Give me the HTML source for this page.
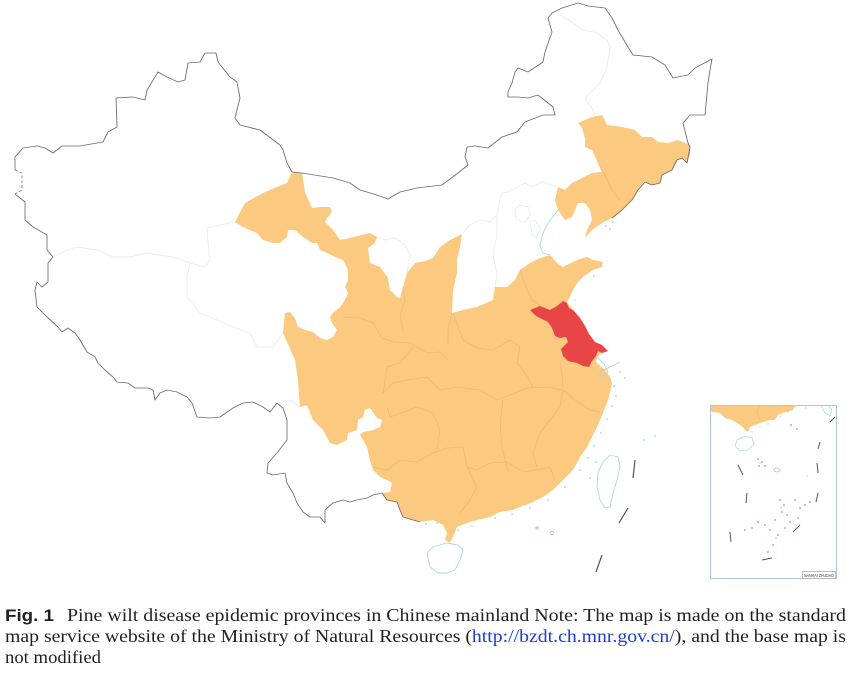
<!DOCTYPE html>
<html><head><meta charset="utf-8"><style>
html,body{margin:0;padding:0;background:#fff;}
svg{display:block;}
</style></head><body>
<svg width="850" height="674" viewBox="0 0 850 674" xmlns="http://www.w3.org/2000/svg">
<rect width="850" height="674" fill="#ffffff"/>

<!-- faint province borders in white regions -->
<g fill="none" stroke="#ebebeb" stroke-width="0.9">
<polyline points="53,257 67,250 77,247 97,250 113,257 130,257 147,253 173,257 190,263 205,267 210,260 208,243 207,228 220,225 235,222"/>
<polyline points="190,263 187,277 187,297 200,313 217,320 233,327 250,333 257,347 273,347 283,333"/>
<polyline points="283,408 290,400 300,407"/>
<polyline points="377,237 385,240 395,238 405,245 410,255 407,273"/>
<polyline points="462,234 470,225 480,220 490,222 497,215"/>
<polyline points="497,215 497,235 493,255 497,275 495,287"/>
<polyline points="497,215 500,200 502,193 508,192 525,183 532,187 542,182 558,187"/>
<polygon points="515,210 520,205 528,207 530,215 525,222 517,220"/>
<polygon points="530,222 535,220 540,228 537,238 532,235"/>
<polyline points="560,15 572,22 582,30 595,32 607,40 610,47 607,67 600,83 588,95 585,100 592,108 595,115"/>
</g>

<!-- main orange body -->
<polygon fill="#fbc97f" points="235,222 245,203 263,193 277,187 287,183 292,172 302,173 305,192 312,208 320,207 330,207 332,212 327,218 325,222 333,230 340,240 350,238 358,236 370,233 377,237 375,243 368,248 370,263 380,267 388,278 390,290 397,297 400,298 403,287 407,273 415,263 425,261 433,258 440,247 450,240 462,234 460,247 457,260 457,273 453,290 452,313 463,310 477,307 493,300 495,287 507,287 515,280 520,270 530,263 540,258 550,255 557,263 563,267 577,260 587,257 593,260 603,262 602,267 593,270 583,277 577,283 573,290 570,297 567,302 574,311 580,318 585,326 589,334 595,342 602,345 608,351 602,353 598,356 596,362 600,366 605,370 610,377 612,383 610,393 607,403 603,413 597,427 592,437 587,447 580,457 573,470 563,480 553,490 543,497 533,502 520,507 513,510 500,512 490,517 477,520 467,523 457,527 453,537 450,543 445,540 447,533 443,525 433,520 420,522 413,520 403,517 400,510 397,502 387,500 382,495 383,493 390,492 392,483 387,480 380,477 373,470 370,460 367,447 363,440 360,435 363,432 373,430 380,427 382,420 377,418 370,408 365,410 363,417 358,420 357,430 348,433 347,440 337,445 330,443 323,430 313,420 307,405 300,407 298,380 295,360 283,333 285,313 290,312 295,318 298,327 305,330 313,332 320,338 327,340 333,337 337,330 332,323 330,317 333,313 340,307 345,300 348,293 345,287 348,280 348,270 343,260 335,257 327,253 320,250 317,243 312,243 303,237 295,230 288,230 287,237 280,243 273,243 263,240 257,233 243,227"/>

<!-- NE orange -->
<polygon fill="#fbc97f" points="578,123 592,117 602,115 607,125 622,127 635,130 642,137 652,137 658,142 668,143 678,140 690,145 690,155 687,163 682,158 677,160 672,170 662,175 660,183 652,185 645,182 638,190 632,200 622,210 612,218 602,223 592,230 585,238 587,230 592,220 590,210 585,203 578,203 572,217 565,220 558,210 555,200 558,187 565,190 572,183 592,173 602,172 598,163 592,150 585,147 585,138 582,128"/>

<!-- internal orange borders -->
<g fill="none" stroke="#ebb873" stroke-width="0.7">
<polyline points="343,317 360,318 373,323 382,338 393,342 410,343 427,353 440,352 448,360"/>
<polyline points="383,393 393,383 407,380 427,377 440,390 457,387 480,390 497,400 510,395 527,388 547,387 562,390"/>
<polyline points="503,400 500,423 502,447 507,467 510,473"/>
<polyline points="373,467 387,470 400,460 417,462 433,453 447,448 463,447 467,467 477,470 490,463 507,462 523,472 537,470 550,467 555,480"/>
<polyline points="563,390 560,407 550,420 540,433 533,453 537,467"/>
<polyline points="467,467 477,487 470,500 460,513"/>
<polyline points="387,407 390,417 417,407 433,413 440,430 437,450"/>
<polyline points="453,313 463,340 477,348 493,350 510,340 520,347 517,363 528,377 533,388"/>
<polyline points="383,393 387,367 400,363 413,347"/>
<polyline points="452,313 448,330 448,345"/>
<polyline points="403,287 405,300 400,315 403,330"/>
<polyline points="520,270 525,285 532,300 540,306"/>
<polyline points="563,390 575,400 590,410 600,412"/>
<polyline points="560,363 562,375 563,390"/>
<polyline points="598,163 605,175 612,190 620,200"/>
</g>

<!-- Jiangsu -->
<polygon fill="#e84646" points="530,310 540,306 550,310 557,306 563,301 567,303 569,308 574,311 580,318 585,326 589,334 595,342 602,345 608,351 602,353 598,351 596,356 592,361 589,367 583,366 577,363 568,361 563,356 561,349 565,345 568,342 566,337 560,338 555,336 552,328 548,322 542,319 536,316"/>

<!-- coast lines cyan -->
<g fill="none" stroke="#a6dbe6" stroke-width="0.9">
<polyline points="558,210 552,218 546,226 542,236 540,246 543,253 550,255"/>
<polygon points="427,553 433,547 447,543 458,545 463,550 460,560 455,570 447,573 438,573 430,567"/>
<polygon points="610,455 618,457 620,467 617,480 613,493 610,507 605,508 600,500 597,487 598,473 603,462"/>
<polyline points="598,358 604,364 608,372 603,378 598,374"/>
</g>
<g fill="#9fd6e3">
<circle cx="606" cy="226" r="0.9"/><circle cx="610" cy="229" r="0.9"/><circle cx="613" cy="222" r="0.9"/>
<circle cx="594" cy="276" r="0.9"/><circle cx="575" cy="300" r="0.8"/>
<circle cx="614" cy="386" r="0.9"/><circle cx="616" cy="396" r="0.9"/><circle cx="612" cy="406" r="0.9"/>
<circle cx="607" cy="419" r="0.9"/><circle cx="601" cy="433" r="0.9"/><circle cx="594" cy="446" r="0.9"/>
<circle cx="588" cy="458" r="0.9"/><circle cx="580" cy="470" r="0.9"/><circle cx="565" cy="487" r="0.9"/>
<circle cx="548" cy="500" r="0.9"/><circle cx="530" cy="508" r="0.9"/><circle cx="512" cy="514" r="0.9"/>
<circle cx="495" cy="518" r="0.9"/><circle cx="472" cy="526" r="0.9"/><circle cx="458" cy="530" r="0.9"/>
<circle cx="426" cy="524" r="0.9"/><circle cx="437" cy="523" r="0.9"/>
<circle cx="644" cy="440" r="0.9"/><circle cx="655" cy="436" r="0.9"/><circle cx="620" cy="372" r="0.9"/>
<circle cx="625" cy="378" r="0.9"/><circle cx="590" cy="478" r="0.9"/><circle cx="596" cy="462" r="0.9"/>
</g>
<line x1="600" y1="372" x2="620" y2="362" stroke="#c0c0c0" stroke-width="0.7"/>
<g fill="none" stroke="#d890d8" stroke-width="0.8">
<circle cx="537" cy="528" r="1.2"/><circle cx="552" cy="533" r="1.5"/>
</g>

<!-- dashes -->
<g stroke="#555" stroke-width="1.2" fill="none">
<line x1="635" y1="460" x2="633" y2="478"/>
<line x1="628" y1="508" x2="619" y2="523"/>
<line x1="602" y1="555" x2="596" y2="572"/>
</g>

<!-- national border -->
<polyline fill="none" stroke="#6a6a6a" stroke-width="0.85" stroke-linejoin="round" points="612,218 622,210 632,200 638,190 645,182 652,185 660,183 662,175 672,170 677,160 682,158 687,163 690,147 688,143 683,123 690,115 705,115 708,83 710,70 712,59 695,68 688,75 673,78 665,65 652,57 633,55 628,47 618,30 612,18 605,8 588,6 578,3 562,8 552,13 548,18 552,32 545,52 543,62 528,72 518,68 515,72 512,83 508,92 508,97 518,97 528,98 538,95 553,107 555,115 543,115 525,122 517,132 502,137 488,148 475,146 467,147 465,157 468,165 458,173 442,185 425,187 417,188 400,192 388,199 377,195 360,190 350,183 333,178 302,173 292,172 287,163 283,150 280,145 260,130 240,125 235,118 240,98 237,82 230,77 218,62 216,53 205,53 200,62 188,63 185,80 178,82 167,77 158,72 147,90 145,100 133,97 116,98 117,127 108,132 103,142 80,146 62,146 53,153 45,148 37,146 23,148 15,157 15,170"/>
<polyline fill="none" stroke="#7a7a7a" stroke-width="0.85" stroke-dasharray="3,2" points="15,170 22,173 22,190 15,194"/>
<polyline fill="none" stroke="#6a6a6a" stroke-width="0.85" stroke-linejoin="round" points="15,194 25,202 25,220 33,227 47,235 47,250 53,257 48,263 48,282 42,287 37,282 35,290 37,307 47,317 58,327 62,332 68,328 75,333 80,340 87,352 95,357 98,363 105,370 113,377 117,382 128,383 135,388 148,388 153,390 155,400 160,393 167,390 177,392 187,397 192,403 197,417 210,418 220,417 233,408 243,403 253,402 263,407 270,412 277,403 283,408 287,420 287,440 277,453 268,463 267,473 273,475 285,473 287,483 293,493 297,503 303,512 310,517 320,517 325,523 325,510 333,503 343,500 350,502 357,500 367,498 373,495 382,493 387,500 397,502 400,510 403,517 413,520 420,522"/>

<!-- inset -->
<defs><clipPath id="ic"><rect x="710.5" y="405.5" width="126" height="173"/></clipPath></defs>
<rect x="710.5" y="405.5" width="126" height="173" fill="#fff"/>
<g clip-path="url(#ic)">
<polygon fill="#fbc97f" points="708,403 797,403 793,410 783,413 778,415 775,420 770,420 763,422 755,425 750,427 748,432 745,430 743,427 737,423 732,420 725,418 720,413 713,412 708,410"/>
<polyline fill="none" stroke="#ebb873" stroke-width="0.6" points="760,405 757,412 760,420"/>
<g fill="none" stroke="#a6dbe6" stroke-width="0.8">
<polygon points="737,440 745,436 752,438 754,444 748,450 740,451 735,446"/>
<polygon points="821,405 828,405 832,410 830,416 825,413"/>
</g>
<g fill="#9fd6e3"><circle cx="752" cy="432" r="0.7"/><circle cx="760" cy="427" r="0.7"/><circle cx="768" cy="424" r="0.7"/><circle cx="780" cy="417" r="0.7"/><circle cx="788" cy="412" r="0.7"/><circle cx="806" cy="408" r="0.7"/></g>
<g stroke="#555" stroke-width="1" fill="none">
<line x1="830" y1="422" x2="835" y2="417"/>
<line x1="820" y1="442" x2="818" y2="449"/>
<line x1="817" y1="463" x2="818" y2="473"/>
<line x1="818" y1="493" x2="816" y2="502"/>
<line x1="800" y1="525" x2="793" y2="532"/>
<line x1="772" y1="558" x2="762" y2="560"/>
<line x1="730" y1="532" x2="731" y2="542"/>
<line x1="747" y1="493" x2="746" y2="503"/>
<line x1="738" y1="465" x2="743" y2="475"/>
</g>
<g fill="none" stroke="#d890d8" stroke-width="0.6">
<ellipse cx="777" cy="470" rx="3" ry="2"/>
<circle cx="758" cy="459" r="0.8"/><circle cx="762" cy="462" r="0.8"/><circle cx="765" cy="466" r="0.8"/><circle cx="759" cy="466" r="0.8"/>
<circle cx="791" cy="425" r="0.8"/><circle cx="797" cy="429" r="0.8"/>
<circle cx="780" cy="500" r="0.8"/><circle cx="784" cy="505" r="0.8"/><circle cx="782" cy="512" r="0.8"/><circle cx="787" cy="515" r="0.8"/>
<circle cx="795" cy="500" r="0.8"/><circle cx="800" cy="508" r="0.8"/><circle cx="805" cy="505" r="0.8"/><circle cx="810" cy="502" r="0.8"/>
<circle cx="775" cy="520" r="0.8"/><circle cx="790" cy="522" r="0.8"/><circle cx="798" cy="518" r="0.8"/>
<circle cx="765" cy="525" r="0.8"/><circle cx="758" cy="522" r="0.8"/><circle cx="770" cy="530" r="0.8"/>
<circle cx="778" cy="535" r="0.8"/><circle cx="773" cy="545" r="0.8"/><circle cx="768" cy="552" r="0.8"/>
<circle cx="745" cy="530" r="0.8"/><circle cx="752" cy="528" r="0.8"/><circle cx="785" cy="528" r="0.8"/>
</g>
<g fill="#9fc7e8"><circle cx="781" cy="508" r="0.7"/><circle cx="760" cy="463" r="0.7"/><circle cx="776" cy="538" r="0.7"/><circle cx="807" cy="476" r="0.7"/></g>
</g>
<rect x="710.5" y="405.5" width="126" height="173" fill="none" stroke="#a9c6e6" stroke-width="1"/>
<rect x="802.5" y="571.5" width="33" height="7" fill="#fff" stroke="#999" stroke-width="0.6"/>
<text x="804" y="577" font-family="Liberation Sans, sans-serif" font-size="4.5" fill="#333" textLength="30" lengthAdjust="spacingAndGlyphs">NANHAI ZHUDAO</text>

<!-- caption -->
<text x="5" y="621" font-family="Liberation Sans, sans-serif" font-weight="bold" font-size="17" fill="#231f20" textLength="49" lengthAdjust="spacingAndGlyphs">Fig. 1</text>
<text x="67" y="621" font-family="Liberation Serif, serif" font-size="17.5" fill="#231f20" textLength="779" lengthAdjust="spacingAndGlyphs">Pine wilt disease epidemic provinces in Chinese mainland Note: The map is made on the standard</text>
<text x="5" y="642" font-family="Liberation Serif, serif" font-size="17.5" fill="#231f20" textLength="841" lengthAdjust="spacingAndGlyphs">map service website of the Ministry of Natural Resources (<tspan fill="#1a3fd6">http://bzdt.ch.mnr.gov.cn/</tspan>), and the base map is</text>
<text x="5" y="663" font-family="Liberation Serif, serif" font-size="17.5" fill="#231f20" textLength="96" lengthAdjust="spacingAndGlyphs">not modified</text>
</svg>
</body></html>
